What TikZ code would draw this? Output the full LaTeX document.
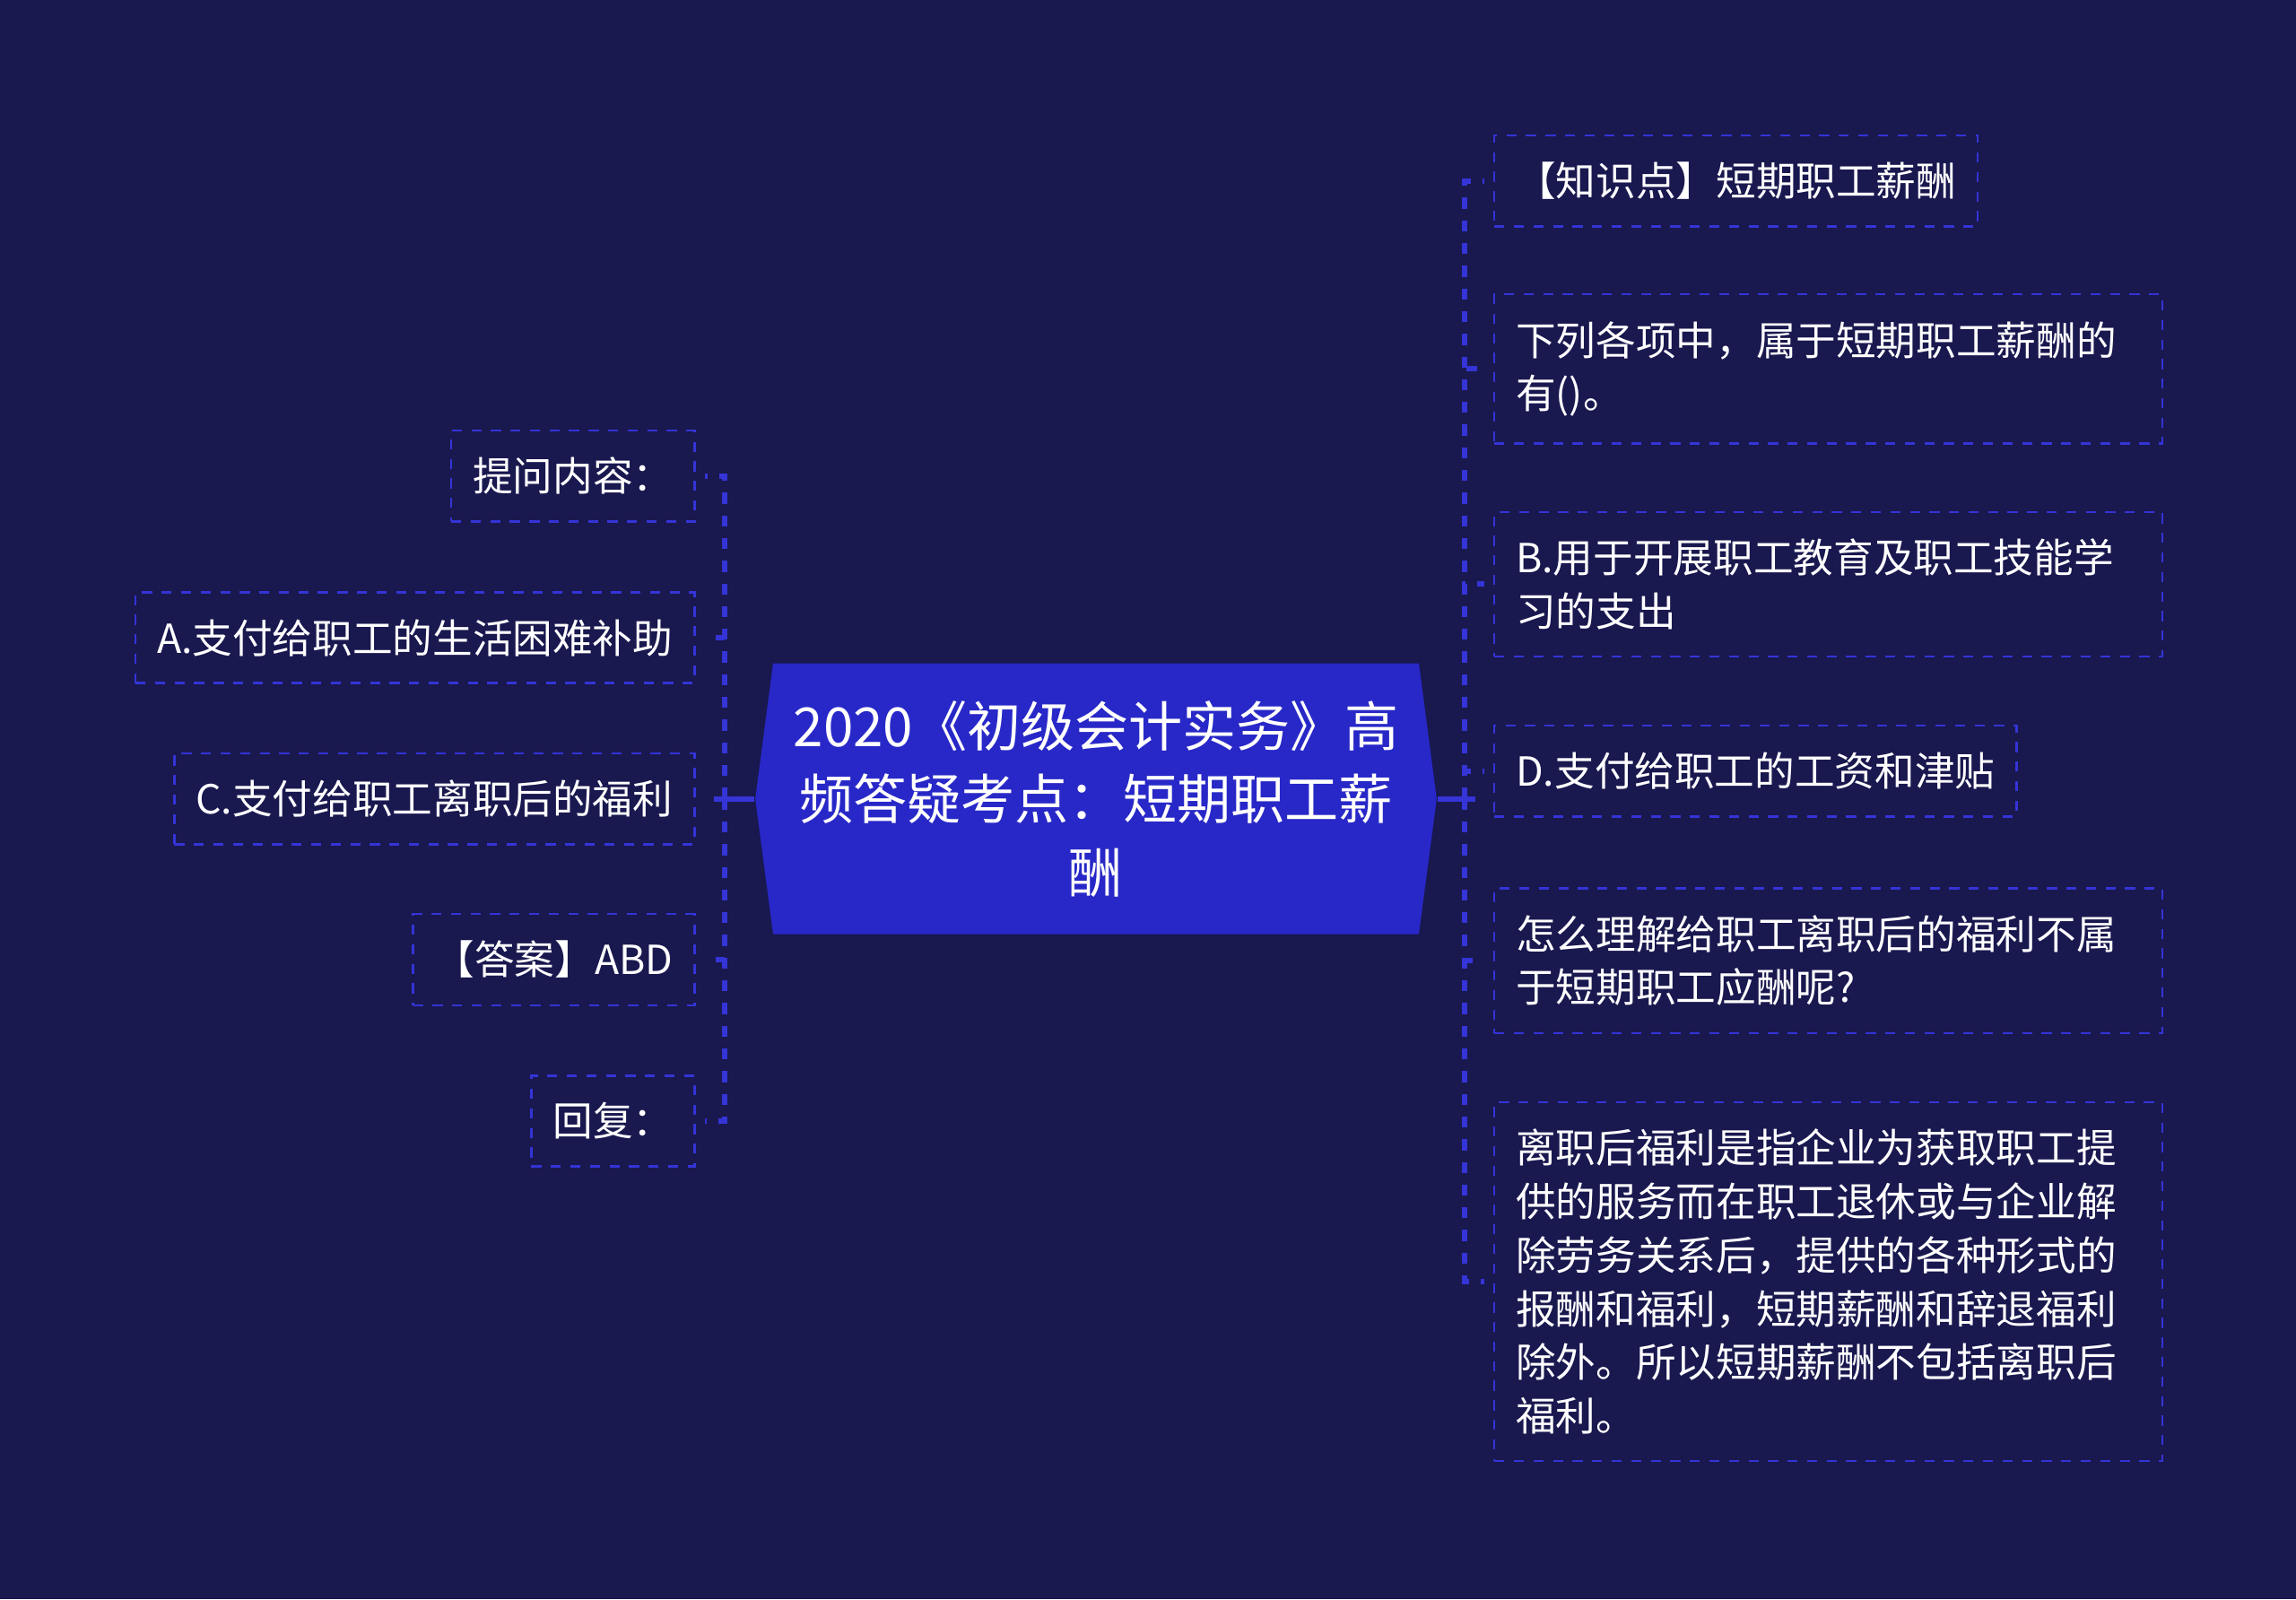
\documentclass[tikz,border=0pt]{standalone}
\usepackage{fontspec}
\newfontfamily\cjk{Noto Sans CJK SC}
\usepackage{xcolor}
\usetikzlibrary{shapes.symbols,positioning}

\definecolor{bgnavy}{RGB}{25,24,79}
\definecolor{hubblue}{RGB}{40,40,200}
\definecolor{linkblue}{RGB}{52,52,215}

\begin{document}
\begin{tikzpicture}[
  font=\cjk,
  leaf/.style={draw=linkblue,dash pattern=on 3.2pt off 3pt,line width=0.7pt,text=white,align=left,
    inner xsep=0.24cm,inner ysep=0.3cm,font=\cjk\fontsize{12.7}{17}\selectfont},
  wide/.style={leaf,text width=6.97cm},
  hub/.style={signal,signal to=west and east,signal pointer angle=165,fill=hubblue,text=white,
    align=center,text width=6.9cm,minimum height=3.02cm,inner xsep=0.15cm,font=\cjk\fontsize{17.1}{23.2}\selectfont},
  link/.style={linkblue,line width=1.7pt,dash pattern=on 3.5pt off 3.7pt},
  trunk/.style={linkblue,line width=1.7pt}
]
% page background and fixed margins
\fill[bgnavy] (0,0) rectangle (25.6,-17.83);
\useasboundingbox (0,0) rectangle (25.6,-17.83);

% central topic
\node[hub] (hub) at (12.22,-8.906) {2020《初级会计实务》高\\频答疑考点：短期职工薪\\酬};
\coordinate (lfork) at (8.082,-8.906);
\coordinate (rfork) at (16.33,-8.906);

% left branch: the question thread
\node[leaf,anchor=east] (ask) at (7.755,-5.306) {提问内容：};
\node[leaf,anchor=east] (optA) at (7.755,-7.11) {A.支付给职工的生活困难补助};
\node[leaf,anchor=east] (optC) at (7.755,-8.906) {C.支付给职工离职后的福利};
\node[leaf,anchor=east] (ans) at (7.755,-10.70) {【答案】ABD};
\node[leaf,anchor=east] (reply) at (7.755,-12.50) {回复：};

% right branch: the knowledge point and the answer
\node[leaf,anchor=west] (topic) at (16.65,-2.016) {【知识点】短期职工薪酬};
\node[wide,anchor=west] (quest) at (16.65,-4.114) {下列各项中，属于短期职工薪酬的\\有()。};
\node[wide,anchor=west] (optB) at (16.65,-6.514) {B.用于开展职工教育及职工技能学\\习的支出};
\node[leaf,anchor=west] (optD) at (16.65,-8.596) {D.支付给职工的工资和津贴};
\node[wide,anchor=west] (why) at (16.65,-10.71) {怎么理解给职工离职后的福利不属\\于短期职工应酬呢?};
\node[wide,anchor=west] (expl) at (16.65,-14.29) {离职后福利是指企业为获取职工提\\供的服务而在职工退休或与企业解\\除劳务关系后，提供的各种形式的\\报酬和福利，短期薪酬和辞退福利\\除外。所以短期薪酬不包括离职后\\福利。};

% connectors
\draw[trunk] (hub.west) -- ([xshift=-0.12cm]lfork);
\draw[trunk] (hub.east) -- ([xshift=0.12cm]rfork);
\foreach \n in {ask,optA,optC,ans,reply}{
  \draw[link] (lfork) |- ([xshift=0.1cm]\n.east);
}
\foreach \n in {topic,quest,optB,optD,why,expl}{
  \draw[link] (rfork) |- ([xshift=-0.1cm]\n.west);
}
\end{tikzpicture}
\end{document}
